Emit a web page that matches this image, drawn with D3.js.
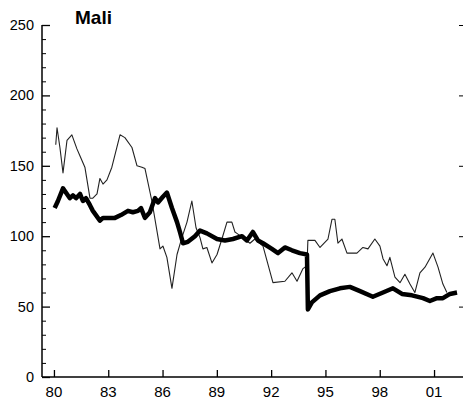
<!DOCTYPE html>
<html>
<head>
<meta charset="utf-8">
<script src="https://cdn.jsdelivr.net/npm/d3@7"></script>
<style>
  html, body { margin: 0; padding: 0; background: #fff; }
  svg { display: block; }
  text { font-family: Arial, "Liberation Sans", Helvetica, sans-serif; fill: #000; }
</style>
</head>
<body>
<svg id="chart" width="465" height="403"></svg>
<script>
// Mali: two exchange-rate indices, 1980-2002 (decimal years)
const title = "Mali";

const thinYears = [1980.10, 1980.17, 1980.33, 1980.50, 1980.72, 1980.99, 1981.27, 1981.44, 1981.71, 1981.99,
  1982.15, 1982.38, 1982.54, 1982.71, 1982.93, 1983.20, 1983.65, 1983.92, 1984.31, 1984.59,
  1984.86, 1985.03, 1985.41, 1985.86, 1986.02, 1986.24, 1986.52, 1986.80, 1987.07, 1987.35,
  1987.62, 1987.85, 1988.07, 1988.23, 1988.45, 1988.73, 1989.01, 1989.28, 1989.56, 1989.83,
  1990.00, 1990.11, 1990.83, 1991.10, 1991.55, 1992.10, 1992.76, 1993.15, 1993.43, 1993.76,
  1993.98, 1994.03, 1994.42, 1994.70, 1995.14, 1995.36, 1995.52, 1995.69, 1995.91, 1996.19,
  1996.74, 1997.07, 1997.35, 1997.73, 1998.01, 1998.18, 1998.40, 1998.56, 1998.84, 1999.12,
  1999.39, 1999.67, 1999.94, 2000.22, 2000.50, 2000.94, 2001.22, 2001.49, 2001.71];
const thinValues = [165, 177, 163, 145, 168, 172, 162, 157, 149, 127,
  127, 130, 141, 137, 140, 149, 172, 170, 163, 150,
  149, 148, 125, 91, 93, 85, 63, 87, 99, 110,
  125, 106, 99, 91, 92, 81, 87, 98, 110, 110,
  103, 102, 95, 98, 93, 67, 68, 74, 68, 77,
  79, 97, 97, 92, 98, 112, 112, 95, 98, 88,
  88, 92, 91, 98, 93, 84, 79, 85, 71, 67,
  73, 66, 60, 74, 78, 88, 78, 66, 60];

const thickYears = [1980.04, 1980.22, 1980.50, 1980.66, 1980.88, 1981.05, 1981.22, 1981.44, 1981.60, 1981.77,
  1981.99, 1982.15, 1982.32, 1982.54, 1982.71, 1982.98, 1983.37, 1983.70, 1984.09, 1984.36,
  1984.64, 1984.81, 1985.03, 1985.30, 1985.58, 1985.75, 1986.02, 1986.24, 1986.52, 1986.80,
  1986.96, 1987.13, 1987.40, 1987.79, 1988.07, 1988.45, 1989.01, 1989.45, 1989.89, 1990.39,
  1990.66, 1990.99, 1991.27, 1991.55, 1992.04, 1992.38, 1992.76, 1993.15, 1993.59, 1993.98,
  1994.03, 1994.25, 1994.70, 1995.25, 1995.80, 1996.35, 1996.91, 1997.62, 1998.18, 1998.73,
  1999.23, 1999.78, 2000.39, 2000.77, 2001.16, 2001.49, 2001.88, 2002.27];
const thickValues = [120, 125, 134, 131, 127, 129, 127, 130, 125, 127,
  122, 118, 115, 111, 113, 113, 113, 115, 118, 117,
  118, 120, 113, 117, 127, 124, 128, 131, 120, 110,
  103, 95, 96, 100, 104, 102, 98, 97, 98, 100,
  97, 103, 97, 95, 91, 88, 92, 90, 88, 87,
  48, 53, 58, 61, 63, 64, 61, 57, 60, 63,
  59, 58, 56, 54, 56, 56, 59, 60];

const xTickYears = [1980, 1983, 1986, 1989, 1992, 1995, 1998, 2001];
const xTickLabels = ["80", "83", "86", "89", "92", "95", "98", "01"];
const yTicks = [0, 50, 100, 150, 200, 250];

const svg = d3.select("#chart");
const plotLeft = 42, plotRight = 463, plotTop = 25, plotBottom = 377;

const x = d3.scaleLinear().domain([1979.34, 2002.6]).range([plotLeft, plotRight]);
const y = d3.scaleLinear().domain([0, 250]).range([plotBottom, plotTop]);

// title
svg.append("text")
  .attr("x", 75).attr("y", 24)
  .attr("font-size", 19).attr("font-weight", "bold")
  .text(title);

// left axis: major + minor ticks pointing inward
const yAxis = d3.axisRight(y).tickValues(yTicks).tickSize(8).tickFormat("");
const gY = svg.append("g").attr("transform", `translate(${plotLeft},0)`).call(yAxis);
gY.select(".domain").attr("d", `M0,${plotTop}V${plotBottom}`).attr("stroke-width", 1.5);
gY.selectAll(".tick line").attr("stroke-width", 1.3);
svg.append("g").attr("transform", `translate(${plotLeft},0)`)
  .call(d3.axisRight(y).tickValues(d3.range(0, 251, 10).filter(v => v % 50)).tickSize(4).tickFormat(""))
  .call(g => g.select(".domain").remove());

svg.append("g").selectAll("text").data(yTicks).join("text")
  .attr("x", 34).attr("y", d => y(d) + 5)
  .attr("text-anchor", "end").attr("font-size", 14.5)
  .text(d => d);

// right side ticks (no axis line)
svg.append("g").attr("transform", `translate(${plotRight},0)`)
  .call(d3.axisLeft(y).tickValues(yTicks.filter(v => v > 0)).tickSize(4).tickFormat(""))
  .call(g => g.select(".domain").remove());

// bottom axis
const xAxis = d3.axisTop(x).tickValues(xTickYears).tickSize(7).tickFormat("");
const gX = svg.append("g").attr("transform", `translate(0,${plotBottom})`).call(xAxis);
gX.select(".domain").attr("d", `M${plotLeft},0H${plotRight}`).attr("stroke-width", 1.5);
gX.selectAll(".tick line").attr("stroke-width", 1.3);

svg.append("g").selectAll("text").data(xTickYears).join("text")
  .attr("x", d => x(d)).attr("y", 397)
  .attr("text-anchor", "middle").attr("font-size", 15)
  .text((d, i) => xTickLabels[i]);

// series
const line = d3.line().x(d => x(d[0])).y(d => y(d[1]));

svg.append("path")
  .datum(d3.zip(thinYears, thinValues))
  .attr("fill", "none").attr("stroke", "#222").attr("stroke-width", 1.1)
  .attr("stroke-linejoin", "round")
  .attr("d", line);

svg.append("path")
  .datum(d3.zip(thickYears, thickValues))
  .attr("fill", "none").attr("stroke", "#000").attr("stroke-width", 4.5)
  .attr("stroke-linejoin", "round")
  .attr("d", line);
</script>
</body>
</html>
